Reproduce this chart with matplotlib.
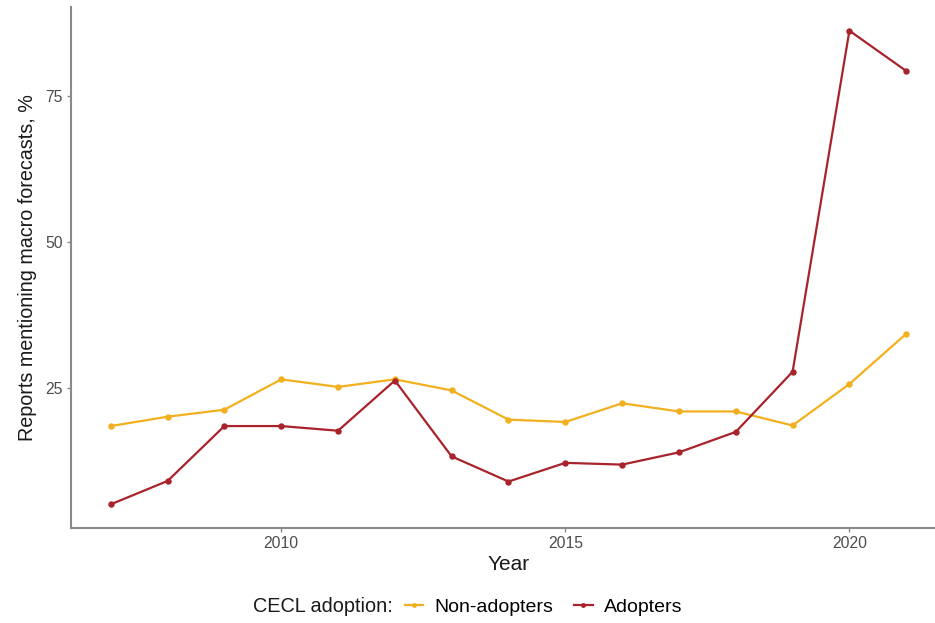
import matplotlib.pyplot as plt
from matplotlib.lines import Line2D

plt.rcParams['font.family'] = ['Liberation Sans', 'DejaVu Sans']

years = list(range(2007, 2022))
non_adopters = [18.4, 20.0, 21.2, 26.4, 25.1, 26.4, 24.5, 19.5, 19.1, 22.3, 20.9, 20.9, 18.5, 25.6, 34.2]
adopters = [5.0, 9.0, 18.4, 18.4, 17.6, 26.2, 13.2, 8.9, 12.1, 11.8, 13.9, 17.4, 27.7, 86.1, 79.2]

series_names = ['Non-adopters', 'Adopters']
colors_list = ['#F2B01E', '#A8232B']

fig = plt.figure(figsize=(9.35, 6.23), dpi=100)
ax = fig.add_axes([71 / 935, 1 - 528 / 623, 875 / 935, (528 - 7) / 623])

for vals, name, col in zip([non_adopters, adopters], series_names, colors_list):
    ax.plot(years, vals, color=col, lw=1.6, marker='o', ms=3.6, label=name)

# ggplot-style 5% padding around the data range
lo = min(min(non_adopters), min(adopters))
hi = max(max(non_adopters), max(adopters))
pad = (hi - lo) * 0.05
ax.set_ylim(lo - pad, hi + pad)
ax.set_xlim(years[0] - 0.7, years[-1] + 0.7)

ax.set_xticks([2010, 2015, 2020])
ax.set_yticks([25, 50, 75])
ax.tick_params(colors='#8a8a8a', labelcolor='#4d4d4d', labelsize=11.3, length=3, width=1, pad=3)

for side in ['top', 'right']:
    ax.spines[side].set_visible(False)
for side in ['left', 'bottom']:
    ax.spines[side].set_color('#8a8a8a')
    ax.spines[side].set_linewidth(1.5)

ax.set_xlabel('Year', fontsize=15, color='#1a1a1a', labelpad=3)
ax.set_ylabel('Reports mentioning macro forecasts, %', fontsize=14.2, color='#1a1a1a', labelpad=6)

# Legend row under the x axis title
handles = [Line2D([], [], color=c, lw=1.6, marker='o', ms=2.5) for c in colors_list]
fig.text(253 / 935, 1 - 607 / 623, 'CECL adoption:', fontsize=14.3, color='#1a1a1a', va='center', ha='left')
fig.legend(handles, series_names, loc='center left', bbox_to_anchor=(405 / 935, 1 - 607 / 623),
           ncol=2, frameon=False, fontsize=14, handlelength=0.93, handletextpad=0.57,
           columnspacing=1.1, borderaxespad=0, borderpad=0)

plt.savefig('out.png', dpi=100)
